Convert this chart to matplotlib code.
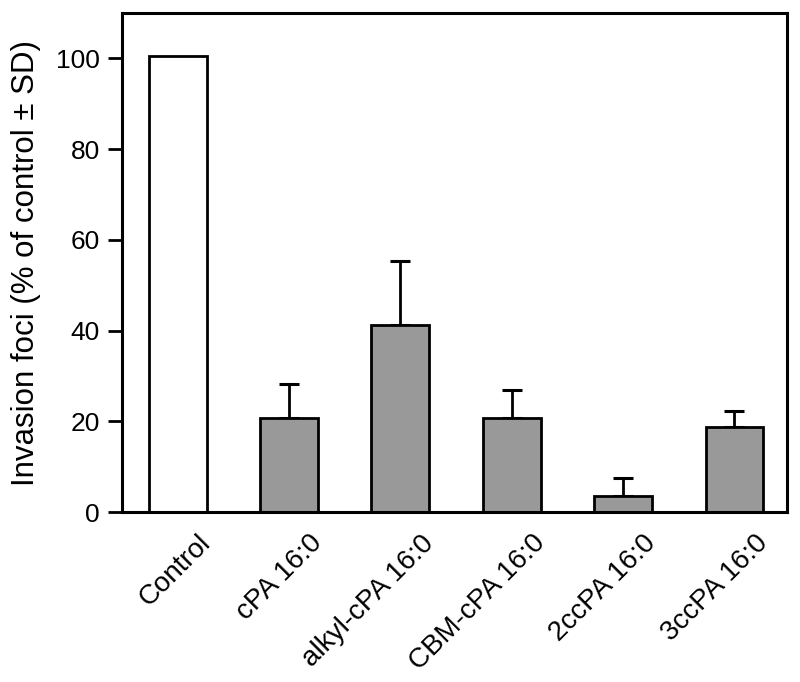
import matplotlib.pyplot as plt
import matplotlib.transforms as mtransforms
import numpy as np

plt.rcParams['font.family'] = ['Liberation Sans', 'DejaVu Sans']

# data
groups = ["Control", "cPA 16:0", "alkyl-cPA 16:0", "CBM-cPA 16:0", "2ccPA 16:0", "3ccPA 16:0"]
values = [100.5, 20.8, 41.2, 20.8, 3.6, 18.7]
sd = [0.0, 7.5, 14.2, 6.1, 4.0, 3.6]
colors = ["white", "#999999", "#999999", "#999999", "#999999", "#999999"]

fig = plt.figure(figsize=(8, 6.82), dpi=100)
ax = fig.add_axes([0.1525, 0.249, 0.831, 0.732])

x = np.arange(len(groups))
ax.bar(x, values, width=0.52, color=colors, edgecolor="black", linewidth=2, zorder=2)

# upward-only error bars, skip control
for xi, v, e in zip(x, values, sd):
    if e > 0:
        ax.errorbar(xi, v, yerr=[[0], [e]], fmt="none", ecolor="black",
                    elinewidth=2, capsize=7, capthick=2.2, zorder=1)

ax.set_xlim(-0.5, 5.47)
ax.set_ylim(0, 110)
ax.set_yticks([0, 20, 40, 60, 80, 100])
ax.set_xticks(x)
ax.set_xticklabels(groups, rotation=45, ha="right", rotation_mode="anchor", fontsize=20)
ax.tick_params(axis="y", labelsize=19, length=10, width=2, pad=6)
ax.tick_params(axis="x", length=0, pad=10)
shift = mtransforms.ScaledTranslation(0.20, -0.04, fig.dpi_scale_trans)
for lab in ax.get_xticklabels():
    lab.set_transform(lab.get_transform() + shift)
for s in ax.spines.values():
    s.set_linewidth(2.2)

ax.set_ylabel("Invasion foci (% of control \u00b1 SD)", fontsize=22.5)
ax.yaxis.set_label_coords(-0.122, 0.5)

fig.savefig("out.png", dpi=100)
